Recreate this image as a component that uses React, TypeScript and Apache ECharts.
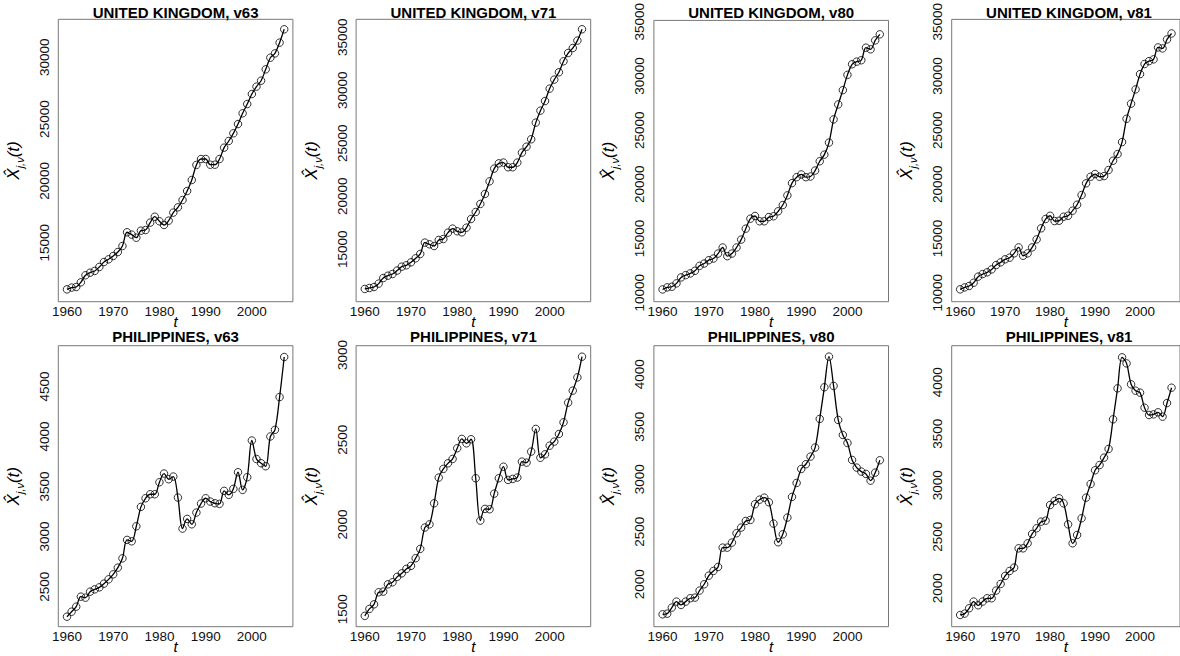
import React, { useEffect, useRef } from "react";
import * as echarts from "echarts";

const YEARS = [
  1960, 1961, 1962, 1963, 1964, 1965, 1966, 1967, 1968, 1969,
  1970, 1971, 1972, 1973, 1974, 1975, 1976, 1977, 1978, 1979,
  1980, 1981, 1982, 1983, 1984, 1985, 1986, 1987, 1988, 1989,
  1990, 1991, 1992, 1993, 1994, 1995, 1996, 1997, 1998, 1999,
  2000, 2001, 2002, 2003, 2004, 2005, 2006, 2007,
];
const X_TICKS = [1960, 1970, 1980, 1990, 2000];
const X_RANGE = [1958.12, 2008.88];

const UK_V63 = [
  11220, 11360, 11410, 11790, 12360, 12570, 12710, 13030, 13430, 13650,
  13920, 14240, 14730, 15840, 15650, 15400, 15970, 16020, 16620, 17100,
  16730, 16430, 16780, 17430, 17860, 18450, 19180, 20070, 21290, 21770,
  21770, 21310, 21310, 21770, 22690, 23230, 23850, 24600, 25470, 26220,
  27030, 27630, 28110, 29030, 29970, 30320, 31190, 32270,
];
const UK_V71 = [
  11260, 11350, 11440, 11760, 12290, 12510, 12670, 12990, 13360, 13490,
  13770, 14150, 14560, 15630, 15470, 15310, 15880, 15970, 16570, 16950,
  16700, 16600, 17040, 17860, 18520, 19280, 20220, 21410, 22610, 23110,
  23180, 22740, 22740, 23180, 24120, 24680, 25380, 26950, 28080, 28990,
  30160, 31010, 31700, 32740, 33520, 33990, 34690, 35760,
];
const UK_V80 = [
  10300, 10490, 10550, 10860, 11410, 11620, 11780, 12020, 12480, 12690,
  13000, 13150, 13610, 14170, 13370, 13610, 14170, 14900, 15910, 16830,
  17080, 16590, 16590, 16980, 17050, 17510, 18090, 18980, 20110, 20660,
  20910, 20660, 20720, 21270, 22130, 22740, 23850, 25990, 27370, 28690,
  30100, 31080, 31320, 31450, 32610, 32460, 33280, 33840,
];
const UK_V81 = [
  10310, 10490, 10620, 10920, 11480, 11720, 11880, 12150, 12550, 12800,
  13080, 13230, 13630, 14180, 13410, 13630, 14180, 14920, 15940, 16800,
  17100, 16610, 16640, 17010, 17100, 17570, 18120, 19010, 20090, 20700,
  20950, 20700, 20760, 21320, 22180, 22790, 23900, 26050, 27440, 28760,
  30170, 31100, 31370, 31530, 32630, 32540, 33370, 33920,
];
const PH_V63 = [
  2200, 2250, 2300, 2400, 2390, 2450, 2473, 2493, 2530, 2573,
  2623, 2690, 2783, 2967, 2953, 3103, 3297, 3383, 3423, 3423,
  3543, 3630, 3573, 3600, 3390, 3080, 3177, 3123, 3240, 3330,
  3383, 3350, 3333, 3327, 3457, 3417, 3477, 3643, 3467, 3593,
  3960, 3775, 3733, 3703, 4000, 4067, 4394, 4794,
];
const PH_V71 = [
  1461, 1502, 1529, 1600, 1604, 1647, 1659, 1691, 1712, 1738,
  1756, 1801, 1856, 1982, 2001, 2125, 2277, 2328, 2361, 2387,
  2450, 2505, 2479, 2503, 2273, 2023, 2092, 2090, 2182, 2273,
  2341, 2263, 2269, 2277, 2371, 2365, 2430, 2564, 2394, 2414,
  2465, 2489, 2534, 2603, 2719, 2790, 2868, 2990,
];
const PH_V80 = [
  1714, 1720, 1778, 1835, 1803, 1835, 1867, 1873, 1940, 2000,
  2082, 2127, 2165, 2349, 2349, 2397, 2486, 2540, 2603, 2613,
  2762, 2806, 2825, 2781, 2578, 2400, 2476, 2635, 2832, 2965,
  3098, 3143, 3216, 3302, 3575, 3876, 4168, 3889, 3565, 3422,
  3346, 3184, 3111, 3073, 3051, 2987, 3063, 3181,
];
const PH_V81 = [
  1741, 1754, 1806, 1871, 1835, 1871, 1903, 1903, 1978, 2042,
  2120, 2168, 2201, 2388, 2388, 2437, 2528, 2583, 2647, 2657,
  2809, 2848, 2874, 2825, 2621, 2437, 2518, 2680, 2880, 3013,
  3146, 3197, 3269, 3353, 3641, 3942, 4243, 4184, 3981, 3919,
  3900, 3754, 3683, 3689, 3709, 3667, 3799, 3948,
];

const UK_V63_TICKS = [15000, 20000, 25000, 30000];
const UK_V71_TICKS = [15000, 20000, 25000, 30000, 35000];
const UK_V80_TICKS = [10000, 15000, 20000, 25000, 30000, 35000];
const UK_V81_TICKS = [10000, 15000, 20000, 25000, 30000, 35000];
const PH_V63_TICKS = [2500, 3000, 3500, 4000, 4500];
const PH_V71_TICKS = [1500, 2000, 2500, 3000];
const PH_V80_TICKS = [2000, 2500, 3000, 3500, 4000];
const PH_V81_TICKS = [2000, 2500, 3000, 3500, 4000];

const UK_V63_RANGE = [10220, 33080];
const UK_V71_RANGE = [10055, 36700];
const UK_V80_RANGE = [9170, 35126];
const UK_V81_RANGE = [9170, 35220];
const PH_V63_RANGE = [2100, 4907];
const PH_V71_RANGE = [1397, 3055];
const PH_V80_RANGE = [1596, 4272];
const PH_V81_RANGE = [1627, 4356];

const TITLES = [
  "UNITED KINGDOM, v63",
  "UNITED KINGDOM, v71",
  "UNITED KINGDOM, v80",
  "UNITED KINGDOM, v81",
  "PHILIPPINES, v63",
  "PHILIPPINES, v71",
  "PHILIPPINES, v80",
  "PHILIPPINES, v81",
];
const VALUES = [UK_V63, UK_V71, UK_V80, UK_V81, PH_V63, PH_V71, PH_V80, PH_V81];
const TICKS = [
  UK_V63_TICKS, UK_V71_TICKS, UK_V80_TICKS, UK_V81_TICKS,
  PH_V63_TICKS, PH_V71_TICKS, PH_V80_TICKS, PH_V81_TICKS,
];
const RANGES = [
  UK_V63_RANGE, UK_V71_RANGE, UK_V80_RANGE, UK_V81_RANGE,
  PH_V63_RANGE, PH_V71_RANGE, PH_V80_RANGE, PH_V81_RANGE,
];

const FONT = '"Liberation Sans", Arial, Helvetica, sans-serif';
const GRID_LEFT0 = 58.3;
const GRID_STEP = 297.8;
const GRID_W = 234.6;
const ROW_TOP = [19.3, 345.7];
const ROW_H = [282.4, 281];
const TITLE_Y = [12.7, 336.7];

function buildOption() {
  const idx = VALUES.map((_, i) => i);
  const pos = (i: number) => {
    const row = Math.floor(i / 4);
    const col = i % 4;
    return {
      row,
      left: GRID_LEFT0 + col * GRID_STEP,
      top: ROW_TOP[row],
      height: ROW_H[row],
    };
  };
  return {
    animation: false,
    backgroundColor: "#ffffff",
    graphic: idx.map((i) => {
      const p = pos(i);
      return {
        type: "text",
        x: p.left + GRID_W / 2,
        y: TITLE_Y[p.row],
        silent: true,
        style: {
          text: TITLES[i],
          align: "center",
          verticalAlign: "middle",
          fontFamily: FONT,
          fontSize: 15,
          fontWeight: "bold",
          fill: "#000",
        },
      };
    }),
    grid: idx.map((i) => {
      const p = pos(i);
      return {
        left: p.left,
        top: p.top,
        width: GRID_W,
        height: p.height,
        show: true,
        borderColor: "#777",
        borderWidth: 1,
        backgroundColor: "transparent",
        containLabel: false,
      };
    }),
    xAxis: idx.map((i) => ({
      type: "value",
      gridIndex: i,
      min: X_RANGE[0],
      max: X_RANGE[1],
      name: "t",
      nameLocation: "middle",
      nameGap: 12,
      nameMoveOverlap: false,
      nameTextStyle: {
        fontFamily: FONT,
        fontStyle: "italic",
        fontSize: 15,
        color: "#000",
      },
      axisLine: { show: false },
      axisTick: { show: false },
      splitLine: { show: false },
      axisLabel: {
        customValues: X_TICKS,
        margin: 3,
        fontFamily: FONT,
        fontSize: 13.5,
        color: "#111",
        formatter: (v: number) => String(v),
      },
    })),
    yAxis: idx.map((i) => ({
      type: "value",
      gridIndex: i,
      min: RANGES[i][0],
      max: RANGES[i][1],
      name: "{x|X\u0302}{s|j,\u03bd}{x|(t)}",
      nameLocation: "middle",
      nameGap: 33,
      nameRotate: 90,
      nameMoveOverlap: false,
      nameTextStyle: {
        rich: {
          x: {
            fontFamily: FONT,
            fontStyle: "italic",
            fontSize: 17,
            lineHeight: 24,
            color: "#000",
          },
          s: {
            fontFamily: FONT,
            fontStyle: "italic",
            fontSize: 11,
            lineHeight: 11,
            verticalAlign: "bottom",
            color: "#000",
          },
        },
      },
      axisLine: { show: false },
      axisTick: { show: false },
      splitLine: { show: false },
      axisLabel: {
        customValues: TICKS[i],
        rotate: 90,
        margin: 7,
        fontFamily: FONT,
        fontSize: 13.5,
        color: "#111",
        formatter: (v: number) => String(v),
      },
    })),
    series: [
      ...idx.map((i) => ({
        type: "line",
        xAxisIndex: i,
        yAxisIndex: i,
        data: YEARS.map((y, k) => [y, VALUES[i][k]]),
        smooth: 0.35,
        showSymbol: false,
        lineStyle: { color: "#000", width: 1.3 },
        z: 2,
        silent: true,
      })),
      ...idx.map((i) => ({
        type: "scatter",
        xAxisIndex: i,
        yAxisIndex: i,
        data: YEARS.map((y, k) => [y, VALUES[i][k]]),
        symbol: "circle",
        symbolSize: 7.5,
        itemStyle: {
          color: "rgba(0,0,0,0)",
          borderColor: "#000",
          borderWidth: 1,
        },
        z: 3,
        silent: true,
      })),
    ],
  };
}

export default function App() {
  const ref = useRef<HTMLDivElement>(null);
  useEffect(() => {
    if (!ref.current) return;
    const chart = echarts.init(ref.current, undefined, { renderer: "svg" });
    chart.setOption(buildOption() as any);
    return () => {
      chart.dispose();
    };
  }, []);
  return (
    <div
      ref={ref}
      style={{
        position: "absolute",
        left: 0,
        top: 0,
        width: 1180,
        height: 656,
        overflow: "hidden",
      }}
    />
  );
}
